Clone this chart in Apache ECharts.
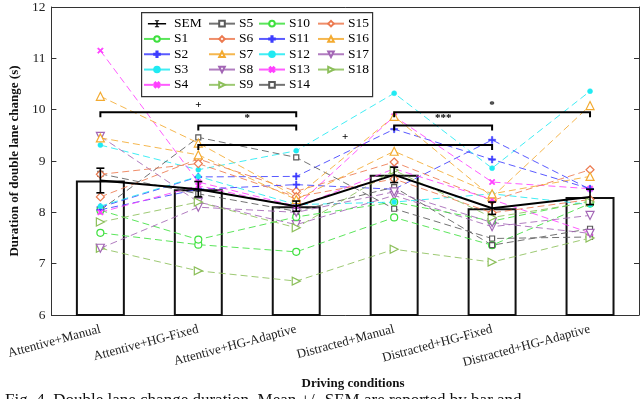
<!DOCTYPE html>
<html><head><meta charset="utf-8">
<script src="https://cdn.jsdelivr.net/npm/echarts@6/dist/echarts.min.js"></script>
<style>html,body{margin:0;padding:0;background:#fff}#c{width:640px;height:399px}</style>
</head><body><div id="c"></div>
<script>
const categories = ['Attentive+Manual','Attentive+HG-Fixed','Attentive+HG-Adaptive','Distracted+Manual','Distracted+HG-Fixed','Distracted+HG-Adaptive'];
const meanValues = [8.62, 8.45, 8.12, 8.73, 8.08, 8.30];
const semValues = [0.24, 0.15, 0.10, 0.15, 0.12, 0.15];
const yTicks = [6, 7, 8, 9, 10, 11, 12];

const S1  = [7.60, 7.37, 7.23, 7.90, 7.36, 8.17];
const S2  = [8.10, 8.69, 8.70, 9.62, 9.03, 8.46];
const S3  = [9.31, 8.83, 9.20, 10.32, 8.86, 10.36];
const S4  = [11.15, 8.59, 8.12, 9.87, 8.59, 8.46];
const S5  = [8.04, 9.46, 9.07, 8.07, 7.49, 7.52];
const S6  = [8.30, 9.04, 8.41, 8.98, 8.23, 8.83];
const S7  = [10.26, 9.35, 8.30, 9.87, 8.30, 10.08];
const S8  = [9.48, 8.20, 7.76, 8.33, 7.72, 7.94];
const S9  = [7.30, 6.86, 6.66, 7.28, 7.03, 7.50];
const S10 = [8.04, 7.47, 7.91, 8.20, 7.83, 8.22];
const S11 = [8.05, 8.45, 8.54, 8.45, 9.41, 8.45];
const S12 = [8.12, 8.70, 8.15, 8.20, 8.36, 8.15];
const S13 = [8.00, 8.52, 8.10, 8.85, 8.25, 7.60];
const S14 = [8.75, 8.36, 8.02, 8.49, 7.36, 7.68];
const S15 = [8.74, 8.95, 8.30, 8.65, 7.99, 8.25];
const S16 = [9.45, 9.12, 8.25, 9.19, 8.36, 8.70];
const S17 = [7.30, 8.10, 8.00, 8.40, 7.80, 7.59];
const S18 = [7.81, 8.20, 7.70, 8.82, 7.90, 8.20];

const bracketFrom  = [0, 1, 1, 3, 3];
const bracketTo    = [2, 2, 4, 5, 4];
const bracketLevel = [9.95, 9.69, 9.31, 9.95, 9.69];
const bracketLabel = ['+', '*', '+', '*', '***'];

const subjects = [S1,S2,S3,S4,S5,S6,S7,S8,S9,S10,S11,S12,S13,S14,S15,S16,S17,S18];
const FONT = 'Liberation Serif';

const green = '#3ee03e', blue = '#3d3dff', cyan = '#20eaf2', magenta = '#ff40ff',
      gray = '#5a5a5a', orangeRed = '#ec7a50', orange = '#f3aa30', purple = '#a366b5', yg = '#8cbf5a';
const plusPath = 'path://M4,0h2v10h-2z M0,4h10v2h-10z';
const styles = [
  {c: green, sym: 'circle', size: 7, hollow: true},
  {c: blue, sym: plusPath, size: 7, hollow: false},
  {c: cyan, sym: 'circle', size: 5, hollow: false},
  {c: magenta, sym: plusPath, size: 7, hollow: false, rot: 45},
  {c: gray, sym: 'rect', size: 5, hollow: true},
  {c: orangeRed, sym: 'diamond', size: 8, hollow: true},
  {c: orange, sym: 'triangle', size: 8, hollow: true},
  {c: purple, sym: 'triangle', size: 8, hollow: true, rot: 180},
  {c: yg, sym: 'triangle', size: 8, hollow: true, rot: -90}
];

const series = [];
series.push({
  name: 'Mean', type: 'bar', data: meanValues, barWidth: '50%', z: 1,
  itemStyle: {color: '#fff', borderColor: '#111', borderWidth: 2}, silent: true
});
subjects.forEach((arr, i) => {
  const st = styles[i % 9];
  series.push({
    name: 'S' + (i + 1), type: 'line', data: arr, z: 3,
    symbol: st.sym, symbolSize: st.size, symbolRotate: st.rot || 0, showAllSymbol: true,
    lineStyle: {color: st.c, width: 1, type: [7, 4], opacity: 0.85},
    itemStyle: st.hollow ? {color: '#fff', borderColor: st.c, borderWidth: 1.2} : {color: st.c, borderColor: st.c, borderWidth: 0.5}
  });
});
series.push({
  name: 'SEM', type: 'line', data: meanValues, z: 6, symbol: 'none',
  lineStyle: {color: '#000', width: 2}, itemStyle: {color: '#000'}
});
series.push({
  name: 'SEM', type: 'custom', z: 7,
  data: meanValues.map((m, i) => [i, m, semValues[i]]),
  encode: {x: 0, y: 1},
  renderItem: function (params, api) {
    const i = api.value(0), m = api.value(1), s = api.value(2);
    const lo = api.coord([i, m - s]), hi = api.coord([i, m + s]);
    const w = 4;
    const st = {stroke: '#000', lineWidth: 1.6};
    return {type: 'group', children: [
      {type: 'line', shape: {x1: lo[0], y1: lo[1], x2: hi[0], y2: hi[1]}, style: st},
      {type: 'line', shape: {x1: lo[0]-w, y1: lo[1], x2: lo[0]+w, y2: lo[1]}, style: st},
      {type: 'line', shape: {x1: hi[0]-w, y1: hi[1], x2: hi[0]+w, y2: hi[1]}, style: st}
    ]};
  }
});
series.push({
  name: 'brackets', type: 'custom', z: 8, silent: true,
  data: bracketFrom.map((f, i) => [f, bracketTo[i], bracketLevel[i]]),
  encode: {x: [0, 1], y: 2},
  renderItem: function (params, api) {
    const a = api.coord([api.value(0), api.value(2)]);
    const b = api.coord([api.value(1), api.value(2)]);
    const d = 5;
    return {type: 'group', children: [
      {type: 'polyline', shape: {points: [[a[0], a[1]+d], [a[0], a[1]], [b[0], b[1]], [b[0], b[1]+d]]},
       style: {stroke: '#000', lineWidth: 2, fill: null}},
      {type: 'text', style: {text: bracketLabel[params.dataIndex], x: (a[0]+b[0])/2, y: a[1]-2,
        align: 'center', verticalAlign: 'bottom', font: 'bold 11px "' + FONT + '"', fill: '#000'}}
    ]};
  }
});

const semIcon = 'path://M0,4h26v2.2h-26z M12,0h2v10h-2z M10,0h6v1.4h-6z M10,8.6h6v1.4h-6z';
function legendCol(names, left) {
  return {
    orient: 'vertical', left: left, top: 16, itemGap: 0, itemWidth: 26, itemHeight: 7,
    textStyle: {fontFamily: FONT, fontSize: 13.5, color: '#000', lineHeight: 15.3, padding: [0, 0, 0, -1]},
    lineStyle: {type: 'solid'},
    selectedMode: false, padding: 0,
    data: names.map(n => n === 'SEM' ? {name: n, icon: semIcon, itemStyle: {color: '#000'}} : {name: n}),
    z: 10
  };
}

const option = {
  animation: false,
  backgroundColor: '#fff',
  textStyle: {fontFamily: FONT},
  grid: {left: 48, right: 1, top: 6, bottom: 84},
  legend: [
    legendCol(['SEM','S1','S2','S3','S4'], 143),
    legendCol(['S5','S6','S7','S8','S9'], 208),
    legendCol(['S10','S11','S12','S13','S14'], 258),
    legendCol(['S15','S16','S17','S18'], 317)
  ],
  graphic: [{type: 'rect', left: 141, top: 12, shape: {width: 231, height: 84},
    style: {fill: '#fff', stroke: '#333', lineWidth: 1.2}, z: 9}],
  title: [
    {text: 'Driving conditions', left: 348, top: 372, textAlign: 'center',
     textStyle: {fontFamily: FONT, fontSize: 13, fontWeight: 'bold', color: '#111'}},
    {text: 'Fig. 4. Double lane change duration. Mean +/- SEM are reported by bar and', left: 0, top: 387,
     textStyle: {fontFamily: FONT, fontSize: 17, fontWeight: 'normal', color: '#111'}}
  ],
  xAxis: [{
    type: 'category', data: categories, position: 'bottom',
    axisLine: {lineStyle: {color: '#333', width: 1}},
    axisTick: {inside: true, alignWithLabel: true, length: 5, lineStyle: {color: '#333'}},
    axisLabel: {rotate: 15, margin: 14, fontFamily: FONT, fontSize: 13, color: '#222', interval: 0}
  }, {
    type: 'category', data: categories, position: 'top',
    axisLine: {lineStyle: {color: '#333', width: 1}},
    axisTick: {inside: true, alignWithLabel: true, length: 5, lineStyle: {color: '#333'}},
    axisLabel: {show: false}
  }],
  yAxis: [{
    type: 'value', min: 6, max: 12, interval: 1,
    name: 'Duration of double lane change (s)', nameLocation: 'middle', nameGap: 30,
    nameTextStyle: {fontFamily: FONT, fontSize: 13, fontWeight: 'bold', color: '#111'},
    axisLine: {show: true, lineStyle: {color: '#333', width: 1}},
    axisTick: {show: true, inside: true, length: 5, lineStyle: {color: '#333'}},
    splitLine: {show: false},
    axisLabel: {fontFamily: FONT, fontSize: 13.5, color: '#222', margin: 6,
      formatter: v => yTicks.includes(v) ? String(v) : ''}
  }, {
    type: 'value', min: 6, max: 12, interval: 1, position: 'right',
    axisLine: {show: true, lineStyle: {color: '#333', width: 1}},
    axisTick: {show: true, inside: true, length: 5, lineStyle: {color: '#333'}},
    splitLine: {show: false}, axisLabel: {show: false}
  }],
  series: series
};
const chart = echarts.init(document.getElementById('c'), null, {renderer: 'canvas'});
chart.setOption(option);
</script></body></html>
